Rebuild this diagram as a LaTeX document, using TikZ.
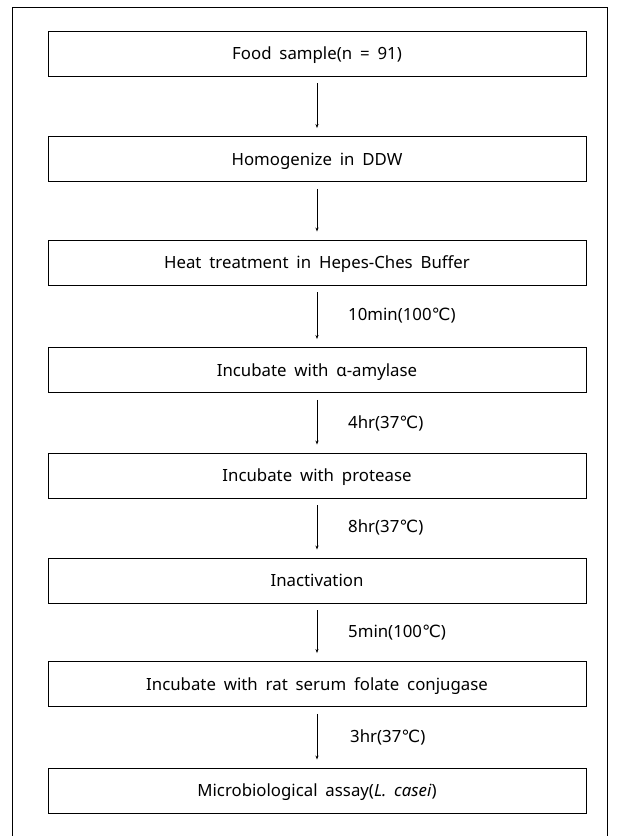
\documentclass[tikz,border=0pt]{standalone}
\usepackage{fontspec}
\setmainfont{Noto Sans}[WordSpace=1.8]
\newfontfamily\symfont{DejaVu Sans}
\usetikzlibrary{arrows.meta}
\newcommand{\degC}{{\symfont\char"2103}}
\begin{document}
\begin{tikzpicture}[x=1pt,y=-1pt,
  stepbox/.style={draw,line width=0.9pt,minimum width=538pt,minimum height=45pt,inner sep=0pt,text height=12pt,text depth=0pt,font=\fontsize{16.8}{19}\selectfont},
  flow/.style={draw,line width=0.7pt,-{Stealth[length=4pt,width=3pt]},shorten <=7pt,shorten >=8pt},
  steplabel/.style={anchor=west,inner sep=0pt,text height=12pt,text depth=0pt,font=\fontsize{16.8}{19}\selectfont}]
\useasboundingbox (0,0) rectangle (617,836);
\draw[line width=0.9pt] (12,836) -- (12,7) -- (607,7) -- (607,836);
\node[stepbox] (b1) at (317,53.5) {Food sample(n = 91)};
\node[stepbox] (b2) at (317,159) {Homogenize in DDW};
\node[stepbox] (b3) at (317,262.5) {Heat treatment in Hepes-Ches Buffer};
\node[stepbox] (b4) at (317,370) {Incubate with α-amylase};
\node[stepbox] (b5) at (317,475.5) {Incubate with protease};
\node[stepbox] (b6) at (317,580.5) {Inactivation};
\node[stepbox] (b7) at (317,684) {Incubate with rat serum folate conjugase};
\node[stepbox] (b8) at (317,790.5) {Microbiological assay(\textit{L. casei})};
\draw[flow] (b1) -- (b2);
\draw[flow] (b2) -- (b3);
\draw[flow] (b3) -- (b4);
\draw[flow] (b4) -- (b5);
\draw[flow] (b5) -- (b6);
\draw[flow] (b6) -- (b7);
\draw[flow] (b7) -- (b8);
\node[steplabel] (l1) at (348,314) {10min(100\degC)};
\node[steplabel] (l2) at (348,422) {4hr(37\degC)};
\node[steplabel] (l3) at (348,526.5) {8hr(37\degC)};
\node[steplabel] (l4) at (348,631.5) {5min(100\degC)};
\node[steplabel] (l5) at (350,736) {3hr(37\degC)};
\end{tikzpicture}
\end{document}
